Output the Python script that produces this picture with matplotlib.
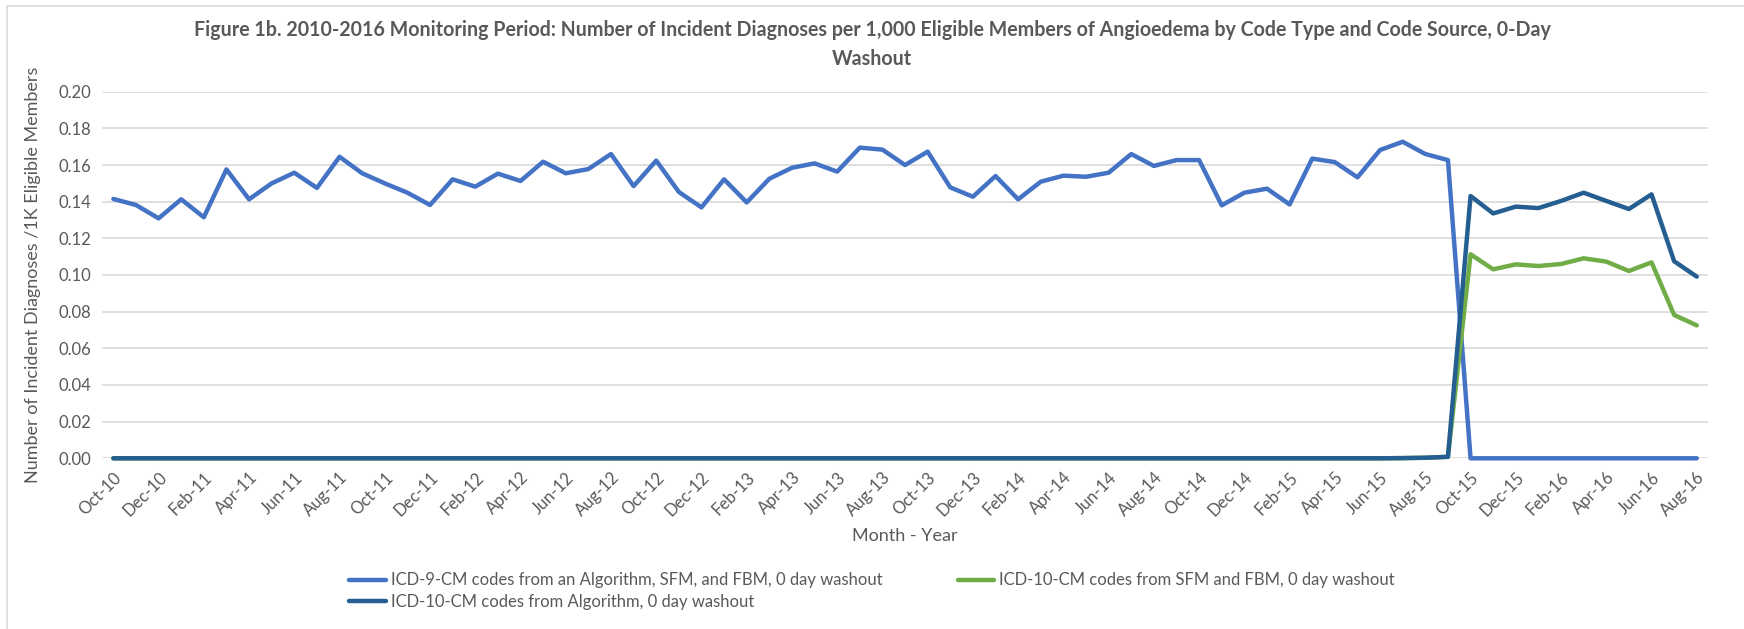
import numpy as np
import pandas as pd
import matplotlib
matplotlib.use("Agg")
import matplotlib.pyplot as plt
from matplotlib.patches import Rectangle

# monthly categories, Oct-10 .. Aug-16
months = pd.date_range("2010-10-01", "2016-08-01", freq="MS").strftime("%b-%y").tolist()

# ICD-9-CM codes from an Algorithm, SFM, and FBM
icd9 = [0.1415, 0.1382, 0.1309, 0.1413, 0.1315, 0.1576, 0.1413, 0.1500, 0.1558, 0.1475,
        0.1645, 0.1555, 0.1500, 0.1449, 0.1382, 0.1522, 0.1482, 0.1553, 0.1513, 0.1618,
        0.1555, 0.1578, 0.1660, 0.1485, 0.1624, 0.1453, 0.1369, 0.1522, 0.1396, 0.1525,
        0.1585, 0.1609, 0.1564, 0.1695, 0.1684, 0.1600, 0.1673, 0.1478, 0.1427, 0.1540,
        0.1413, 0.1509, 0.1542, 0.1536, 0.1558, 0.1660, 0.1595, 0.1627, 0.1627, 0.1380,
        0.1449, 0.1471, 0.1385, 0.1635, 0.1616, 0.1533, 0.1682, 0.1727, 0.1660, 0.1627,
        0.0, 0.0, 0.0, 0.0, 0.0, 0.0, 0.0, 0.0, 0.0, 0.0, 0.0]

# ICD-10-CM codes from SFM and FBM
icd10_sfm = [0.0] * 57 + [0.0001, 0.0003, 0.0008,
             0.1113, 0.1031, 0.1058, 0.1049, 0.1060, 0.1091, 0.1073, 0.1022, 0.1069, 0.0782, 0.0725]

# ICD-10-CM codes from Algorithm
icd10_alg = [0.0] * 57 + [0.0001, 0.0003, 0.0008,
             0.1431, 0.1336, 0.1373, 0.1365, 0.1404, 0.1449, 0.1404, 0.1360, 0.1440, 0.1075, 0.0991]

series_labels = [
    "ICD-9-CM codes from an Algorithm, SFM, and FBM, 0 day washout",
    "ICD-10-CM codes from SFM and FBM, 0 day washout",
    "ICD-10-CM codes from Algorithm, 0 day washout",
]
yticks = [0.00, 0.02, 0.04, 0.06, 0.08, 0.10, 0.12, 0.14, 0.16, 0.18, 0.20]

plt.rcParams['font.family'] = ['Lato', 'DejaVu Sans']
grey = '#595959'

fig = plt.figure(figsize=(17.44, 6.29), dpi=100)
ax = fig.add_axes([0.0585, 0.2714, 0.9209, 0.5828])

x = np.arange(len(months))
lw = 3.2
l1, = ax.plot(x, icd9, color='#4472C4', lw=lw, label=series_labels[0],
              solid_joinstyle='round', solid_capstyle='round', clip_on=False)
l2, = ax.plot(x, icd10_sfm, color='#70AD47', lw=lw, label=series_labels[1],
              solid_joinstyle='round', solid_capstyle='round', clip_on=False)
l3, = ax.plot(x, icd10_alg, color='#255E91', lw=lw, label=series_labels[2],
              solid_joinstyle='round', solid_capstyle='round', clip_on=False)

ax.set_xlim(-0.5, len(months) - 0.5)
ax.set_ylim(0, 0.2)
ax.set_yticks(yticks)
ax.set_yticklabels([f"{v:.2f}" for v in yticks], fontsize=12, color=grey)
ax.set_xticks(x[::2])
ax.set_xticklabels(months[::2], rotation=45, ha='right', rotation_mode='anchor',
                   fontsize=12, color=grey)
ax.tick_params(length=0, pad=8)
ax.grid(axis='y', color='#D9D9D9', lw=1.2)
ax.set_axisbelow(True)
for s in ax.spines.values():
    s.set_visible(False)

ax.set_ylabel("Number of Incident Diagnoses /1K Eligible Members", fontsize=13, color=grey, labelpad=12)
ax.set_xlabel("Month - Year", fontsize=13, color=grey, labelpad=6)

fig.text(0.5, 0.952, "Figure 1b. 2010-2016 Monitoring Period: Number of Incident Diagnoses per 1,000 "
         "Eligible Members of Angioedema by Code Type and Code Source, 0-Day",
         ha='center', va='center', fontsize=14.1, fontweight='bold', color=grey)
fig.text(0.5, 0.906, "Washout", ha='center', va='center', fontsize=14.1, fontweight='bold', color=grey)

leg = fig.legend([l1, l3, l2], [series_labels[0], series_labels[2], series_labels[1]],
                 ncol=2, loc='center', bbox_to_anchor=(0.5, 0.06), frameon=False,
                 fontsize=12, labelcolor=grey, handlelength=2.2, handletextpad=0.3,
                 columnspacing=4.5, labelspacing=0.35)

fig.patches.append(Rectangle((0.004, -0.01), 1.0, 1.0, transform=fig.transFigure,
                             fill=False, edgecolor='#D9D9D9', lw=1.2))

fig.savefig("out.png", dpi=100)
